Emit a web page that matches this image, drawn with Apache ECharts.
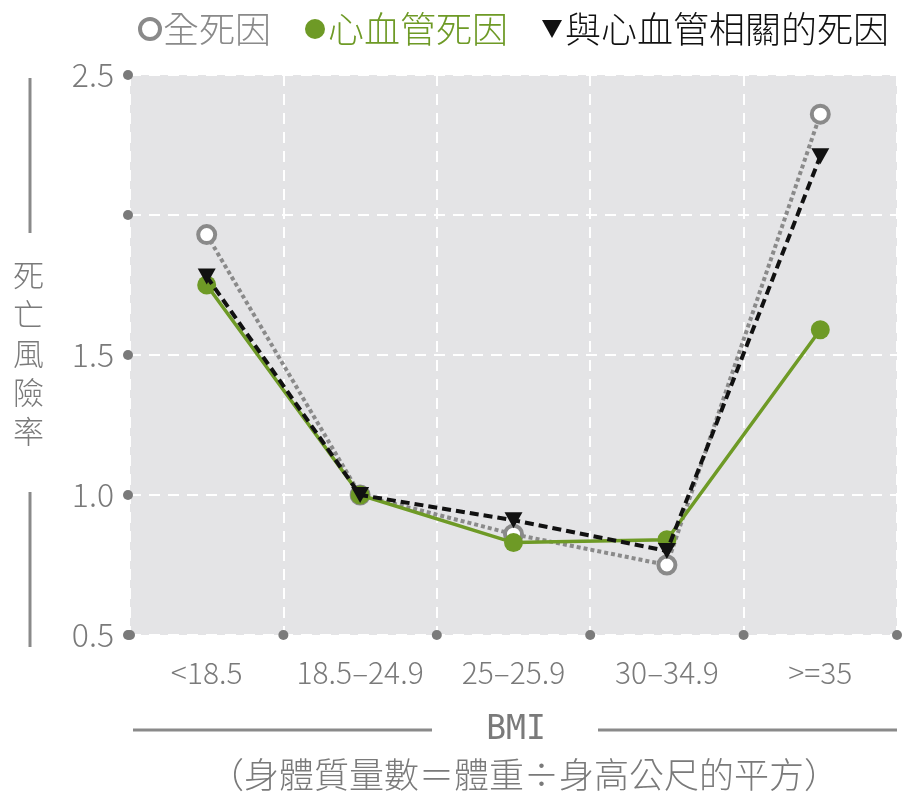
<!DOCTYPE html>
<html>
<head>
<meta charset="utf-8">
<script src="https://cdn.jsdelivr.net/npm/echarts@6/dist/echarts.min.js"></script>
<style>
  html, body { margin: 0; padding: 0; background: #fff; }
  #chart { width: 905px; height: 796px; }
</style>
</head>
<body>
<div id="chart"></div>
<script>
// BMI groups
const categories = ['<18.5', '18.5–24.9', '25–25.9', '30–34.9', '>=35'];
// hazard ratios per group
const allCause = [1.93, 1.00, 0.86, 0.75, 2.36];
const cvdDeath = [1.75, 1.00, 0.83, 0.84, 1.59];
const cvdRelated = [1.78, 1.00, 0.91, 0.80, 2.21];
// y-axis ticks that carry a label
const yLabelled = [0.5, 1.0, 1.5, 2.5];

const seriesNames = ['全死因', '心血管死因', '與心血管相關的死因'];
const GRAY = '#8a8a8a';
const GREEN = '#6e9a26';
const BLACK = '#111111';
const TXT = '#7a7a7a';
const FONT = '"Noto Sans CJK TC", "Noto Sans", sans-serif';
const TRI = 'path://M0,0 L10,0 L5,9 Z';

const chart = echarts.init(document.getElementById('chart'));

const option = {
  animation: false,
  backgroundColor: '#ffffff',
  textStyle: { fontFamily: FONT },
  legend: {
    top: 6,
    left: 133,
    itemGap: 34,
    itemWidth: 20,
    itemHeight: 20,
    textStyle: { fontSize: 36, fontWeight: 300, padding: [0, 0, 0, -2] },
    data: [
      { name: seriesNames[0], icon: 'circle',
        itemStyle: { color: '#fff', borderColor: GRAY, borderWidth: 4 },
        textStyle: { color: GRAY } },
      { name: seriesNames[1], icon: 'circle',
        itemStyle: { color: GREEN, borderWidth: 0 },
        textStyle: { color: GREEN } },
      { name: seriesNames[2], icon: TRI,
        itemStyle: { color: BLACK, borderWidth: 0 },
        textStyle: { color: BLACK } }
    ]
  },
  grid: { left: 130, right: 8, top: 75, bottom: 161, show: true,
          backgroundColor: '#e4e4e6', borderWidth: 0 },
  xAxis: {
    type: 'category',
    data: categories,
    boundaryGap: true,
    axisLine: { show: false },
    axisTick: { show: false },
    axisLabel: { color: TXT, fontSize: 30, fontWeight: 300, margin: 23, interval: 0 },
    splitLine: { show: true, interval: 0,
                 lineStyle: { color: '#ffffff', width: 2, type: [11, 8] } }
  },
  yAxis: {
    type: 'value',
    min: 0.5,
    max: 2.5,
    interval: 0.5,
    axisLine: { show: false },
    axisTick: { show: false },
    axisLabel: {
      color: TXT, fontSize: 32, fontWeight: 300, margin: 16,
      formatter: v => yLabelled.some(t => Math.abs(t - v) < 1e-9) ? v.toFixed(1) : ''
    },
    splitLine: { show: true, lineStyle: { color: '#ffffff', width: 2, type: [11, 8] } }
  },
  series: [
    {
      name: seriesNames[0], type: 'line', data: allCause, z: 3,
      symbol: 'circle', symbolSize: 17,
      itemStyle: { color: '#ffffff', borderColor: GRAY, borderWidth: 4 },
      lineStyle: { color: GRAY, width: 4, type: [4, 3] }
    },
    {
      name: seriesNames[1], type: 'line', data: cvdDeath, z: 4,
      symbol: 'circle', symbolSize: 19,
      itemStyle: { color: GREEN, borderWidth: 0 },
      lineStyle: { color: GREEN, width: 3.5 }
    },
    {
      name: seriesNames[2], type: 'line', data: cvdRelated, z: 5,
      symbol: TRI, symbolSize: [18, 16],
      itemStyle: { color: BLACK, borderWidth: 0 },
      lineStyle: { color: BLACK, width: 4, type: [9, 5] }
    }
  ]
};
chart.setOption(option);

// Axis dots, axis titles and their rules
function decorate() {
  const rect = chart.getModel().getComponent('grid').coordinateSystem.getRect();
  const g = [];
  const dot = (x, y) => ({ type: 'circle', shape: { cx: x, cy: y, r: 5 },
                           style: { fill: '#7a7a7a' }, z: 10 });
  // y-axis tick dots
  for (let v = 0.5; v <= 2.5 + 1e-9; v += 0.5) {
    const y = chart.convertToPixel({ yAxisIndex: 0 }, v);
    g.push(dot(rect.x - 2, y));
  }
  // x-axis boundary dots (between categories)
  const step = rect.width / categories.length;
  for (let i = 0; i <= categories.length; i++) {
    g.push(dot(rect.x + i * step, rect.y + rect.height));
  }
  // y-axis title with rules above and below
  const yTop = chart.convertToPixel({ yAxisIndex: 0 }, 2.5);
  const y2 = chart.convertToPixel({ yAxisIndex: 0 }, 2.0);
  const y1 = chart.convertToPixel({ yAxisIndex: 0 }, 1.0);
  const yBot = chart.convertToPixel({ yAxisIndex: 0 }, 0.5);
  g.push({ type: 'line', shape: { x1: 30, y1: yTop + 3, x2: 30, y2: y2 + 18 },
           style: { stroke: '#8a8a8a', lineWidth: 3 } });
  g.push({ type: 'line', shape: { x1: 30, y1: y1 - 3, x2: 30, y2: yBot + 12 },
           style: { stroke: '#8a8a8a', lineWidth: 3 } });
  g.push({ type: 'text', left: 13, top: 256,
           style: { text: '死\n亡\n風\n險\n率', fill: TXT, fontSize: 31, lineHeight: 39,
                    fontFamily: FONT, fontWeight: 300 } });
  // x-axis title with rules either side
  const titleY = 730;
  g.push({ type: 'line', shape: { x1: 133, y1: titleY, x2: 432, y2: titleY },
           style: { stroke: '#8a8a8a', lineWidth: 3 } });
  g.push({ type: 'line', shape: { x1: 598, y1: titleY, x2: 897, y2: titleY },
           style: { stroke: '#8a8a8a', lineWidth: 3 } });
  g.push({ type: 'text', x: 516, y: titleY, z: 10,
           style: { text: 'BMI', fill: TXT, fontSize: 33, fontWeight: 300,
                    fontFamily: '"DejaVu Sans Mono", monospace',
                    textAlign: 'center', textVerticalAlign: 'middle' } });
  g.push({ type: 'text', x: 524, y: 775, z: 10,
           style: { text: '（身體質量數＝體重÷身高公尺的平方）', fill: TXT, fontSize: 35,
                    fontWeight: 300, fontFamily: FONT,
                    textAlign: 'center', textVerticalAlign: 'middle' } });
  chart.setOption({ graphic: g });
}
decorate();
</script>
</body>
</html>
